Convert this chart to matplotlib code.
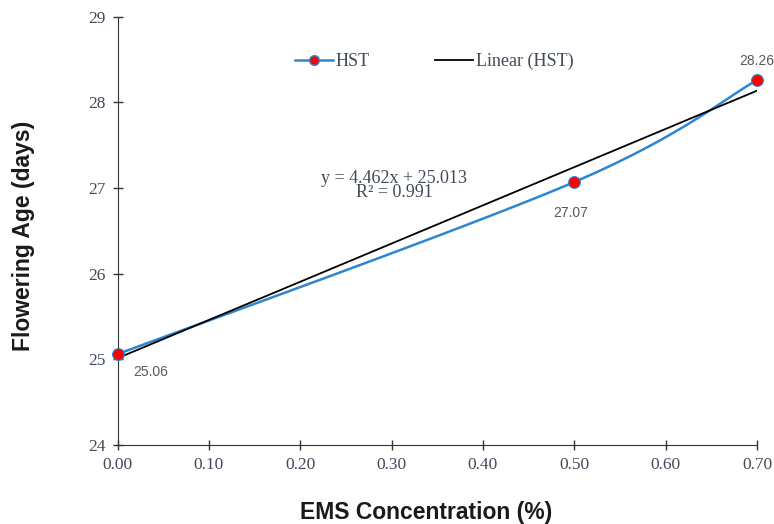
import numpy as np
import matplotlib.pyplot as plt
from matplotlib.lines import Line2D

# data
ems = [0.0, 0.5, 0.7]
flowering_age = [25.06, 27.07, 28.26]
point_labels = ["25.06", "27.07", "28.26"]
slope, intercept = 4.462, 25.013
x_ticks = [0.0, 0.1, 0.2, 0.3, 0.4, 0.5, 0.6, 0.7]
y_ticks = [24, 25, 26, 27, 28, 29]

TXT = "#404b5a"
BLUE = "#2e86d1"


def smooth_curve(xs, ys, n=40):
    # Catmull-Rom spline, similar to Excel's smoothed line
    pts = np.column_stack([xs, ys])
    pts = np.vstack([pts[0], pts, pts[-1]])
    out = []
    for i in range(1, len(pts) - 2):
        p0, p1, p2, p3 = pts[i - 1], pts[i], pts[i + 1], pts[i + 2]
        t = np.linspace(0, 1, n)[:, None]
        seg = 0.5 * ((2 * p1) + (-p0 + p2) * t + (2 * p0 - 5 * p1 + 4 * p2 - p3) * t ** 2
                     + (-p0 + 3 * p1 - 3 * p2 + p3) * t ** 3)
        out.append(seg)
    out = np.vstack(out)
    return out[:, 0], out[:, 1]


fig = plt.figure(figsize=(7.74, 5.24), dpi=100)
ax = fig.add_axes([0.152, 0.151, 0.826, 0.817])

sx, sy = smooth_curve(ems, flowering_age)
ax.plot(sx, sy, color=BLUE, lw=1.8, zorder=2)
ax.plot(ems, flowering_age, "o", color="red", markersize=8.5, markeredgecolor=BLUE,
        markeredgewidth=0.8, zorder=4, clip_on=False)

tx = np.array([0.0, 0.7])
ax.plot(tx, slope * tx + intercept, color="black", lw=1.3, zorder=3)

ax.set_xlim(0, 0.7)
ax.set_ylim(24, 29)
ax.set_xticks(x_ticks)
ax.set_yticks(y_ticks)
ax.set_xticklabels([f"{v:.2f}" for v in x_ticks], family="Liberation Serif", fontsize=12.5, color=TXT)
ax.set_yticklabels([str(v) for v in y_ticks], family="Liberation Serif", fontsize=12.5, color=TXT)
ax.tick_params(direction="inout", length=7, width=1, color="#333333", pad=5)
for s in ["top", "right"]:
    ax.spines[s].set_visible(False)
for s in ["left", "bottom"]:
    ax.spines[s].set_color("#333333")

label_offsets = [(11, -13), (-15, -22), (-13, 14)]
for x, y, lab, off in zip(ems, flowering_age, point_labels, label_offsets):
    ax.annotate(lab, (x, y), xytext=off, textcoords="offset points", ha="left", va="center",
                family="Liberation Sans", fontsize=10, color="#595959", annotation_clip=False)

ax.text(0.303, 27.03, f"y = {slope}x + {intercept}\nR² = 0.991", ha="center", va="center",
        family="Liberation Serif", fontsize=13, color=TXT, linespacing=0.8)

fig.text(0.551, 0.021, "EMS Concentration (%)", ha="center", va="center",
         family="Liberation Sans", fontsize=16.5, fontweight="bold", color="#1a1a1a")
fig.text(0.031, 0.55, "Flowering Age (days)", ha="center", va="center", rotation=90,
         family="Liberation Sans", fontsize=16.5, fontweight="bold", color="#1a1a1a")

handles = [Line2D([], [], color=BLUE, marker="o", markerfacecolor="red", markeredgecolor=BLUE,
                  markersize=7, lw=1.8),
           Line2D([], [], color="black", lw=1.3)]
leg = ax.legend(handles, ["HST", "Linear (HST)"], loc="center left", bbox_to_anchor=(0.278, 0.895), ncol=2,
                frameon=False, prop={"family": "Liberation Serif", "size": 13}, columnspacing=3.6,
                handlelength=2.1, handletextpad=0.15, borderaxespad=0, borderpad=0)
for t in leg.get_texts():
    t.set_color(TXT)

fig.savefig("out.png", dpi=100)
